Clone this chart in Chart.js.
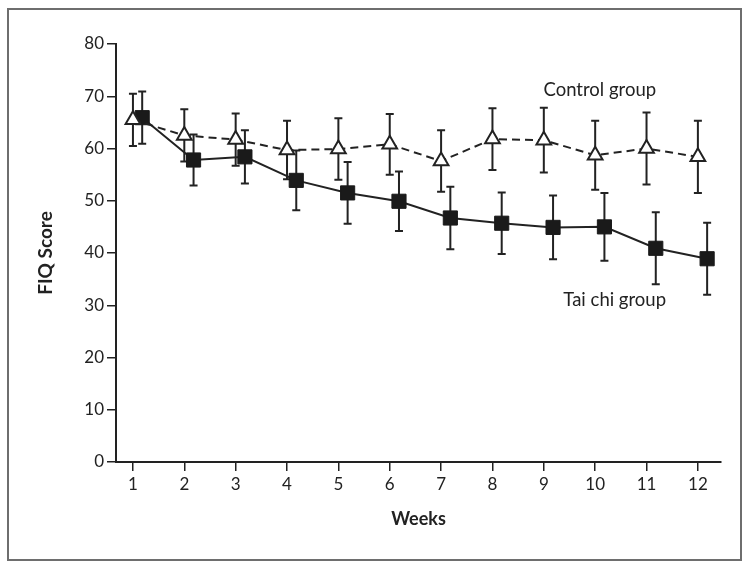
<!DOCTYPE html>
<html>
<head>
<meta charset="utf-8">
<script src="https://cdn.jsdelivr.net/npm/chart.js@4"></script>
<style>
  html, body { margin: 0; padding: 0; background: #fff; }
  #wrap { width: 751px; height: 570px; position: relative; }
</style>
</head>
<body>
<div id="wrap"><canvas id="fiqChart"></canvas></div>
<script>
// weeks and FIQ scores (mean and +/- error)
const weeks = [1, 2, 3, 4, 5, 6, 7, 8, 9, 10, 11, 12];
const controlScores = [65.5, 62.5, 61.7, 59.7, 59.9, 60.8, 57.6, 61.8, 61.6, 58.7, 60.0, 58.4];
const controlErr = [5.0, 5.0, 5.0, 5.6, 5.9, 5.8, 5.9, 5.9, 6.2, 6.6, 6.9, 6.9];
const taiChiScores = [65.9, 57.8, 58.4, 53.9, 51.5, 49.9, 46.7, 45.7, 44.9, 45.0, 40.9, 38.9];
const taiChiErr = [5.0, 4.9, 5.1, 5.7, 5.9, 5.7, 6.0, 5.9, 6.1, 6.5, 6.9, 6.9];
const yTicks = [0, 10, 20, 30, 40, 50, 60, 70, 80];
const taiChiShift = 0.18; // tai chi markers sit a little right of each week

const INK = '#222';
const FONT = 'Lato, "Open Sans", sans-serif';

function toPoints(vals, shift) {
    return weeks.map((w, i) => ({ x: w + shift, y: vals[i] }));
}

// error bars + group labels + outer frame
const extras = {
    id: 'extras',
    beforeDatasetsDraw(chart) {
        const ctx = chart.ctx;
        const xs = chart.scales.x, ys = chart.scales.y;
        const sets = [
            { vals: controlScores, err: controlErr, shift: 0 },
            { vals: taiChiScores, err: taiChiErr, shift: taiChiShift }
        ];
        ctx.save();
        ctx.strokeStyle = INK;
        ctx.lineWidth = 2;
        sets.forEach(s => {
            s.vals.forEach((v, i) => {
                const px = xs.getPixelForValue(weeks[i] + s.shift);
                const top = ys.getPixelForValue(v + s.err[i]);
                const bot = ys.getPixelForValue(v - s.err[i]);
                ctx.beginPath();
                ctx.moveTo(px, top); ctx.lineTo(px, bot);
                ctx.moveTo(px - 4, top); ctx.lineTo(px + 4, top);
                ctx.moveTo(px - 4, bot); ctx.lineTo(px + 4, bot);
                ctx.stroke();
            });
        });
        ctx.restore();
    },
    afterDraw(chart) {
        const ctx = chart.ctx;
        const xs = chart.scales.x, ys = chart.scales.y;
        ctx.save();
        ctx.fillStyle = INK;
        ctx.font = '18.5px ' + FONT;
        ctx.textAlign = 'center';
        ctx.textBaseline = 'middle';
        ctx.fillText('Control group', xs.getPixelForValue(10.09), ys.getPixelForValue(71.2));
        ctx.fillText('Tai chi group', xs.getPixelForValue(10.38), ys.getPixelForValue(31.0));
        // frame round the figure
        ctx.strokeStyle = '#6e6e6e';
        ctx.lineWidth = 2;
        ctx.strokeRect(8, 9, 733, 551);
        ctx.restore();
    }
};

const ctx = document.getElementById('fiqChart').getContext('2d');
new Chart(ctx, {
    type: 'line',
    data: {
        datasets: [
            {
                label: 'Control group',
                data: toPoints(controlScores, 0),
                borderColor: INK,
                borderWidth: 2,
                borderDash: [8, 5],
                pointStyle: 'triangle',
                pointRadius: 8.5,
                pointBackgroundColor: '#fff',
                pointBorderColor: INK,
                pointBorderWidth: 2
            },
            {
                label: 'Tai chi group',
                data: toPoints(taiChiScores, taiChiShift),
                borderColor: INK,
                borderWidth: 2,
                pointStyle: 'rect',
                pointRadius: 10,
                pointBackgroundColor: '#1a1a1a',
                pointBorderColor: '#1a1a1a',
                pointBorderWidth: 1
            }
        ]
    },
    options: {
        responsive: true,
        maintainAspectRatio: false,
        animation: false,
        events: [],
        layout: { padding: { left: 0, top: 44, right: 30, bottom: 0 } },
        plugins: {
            legend: { display: false },
            tooltip: { enabled: false }
        },
        scales: {
            x: {
                type: 'linear',
                min: 0.67,
                max: 12.45,
                afterFit: s => { s.height = 108; },
                afterBuildTicks: s => { s.ticks = weeks.map(v => ({ value: v })); },
                border: { display: true, color: INK, width: 2 },
                grid: { drawOnChartArea: false, drawTicks: true, tickLength: 9, color: INK, lineWidth: 1.5 },
                ticks: { color: INK, padding: 3, maxRotation: 0, autoSkip: false, font: { family: FONT, size: 17 } },
                title: {
                    display: true,
                    text: 'Weeks',
                    color: INK,
                    font: { family: FONT, size: 18, weight: 'bold' },
                    padding: { top: 0, bottom: 40 }
                }
            },
            y: {
                min: 0,
                max: 80,
                afterFit: s => { s.width = 116; },
                afterBuildTicks: s => { s.ticks = yTicks.map(v => ({ value: v })); },
                border: { display: true, color: INK, width: 2 },
                grid: { drawOnChartArea: false, drawTicks: true, tickLength: 9, color: INK, lineWidth: 1.5 },
                ticks: { color: INK, padding: 3, font: { family: FONT, size: 17 } },
                title: {
                    display: true,
                    text: 'FIQ Score',
                    color: INK,
                    font: { family: FONT, size: 19, weight: 'bold' },
                    padding: { top: 34, bottom: 0 }
                }
            }
        }
    },
    plugins: [extras]
});
</script>
</body>
</html>
